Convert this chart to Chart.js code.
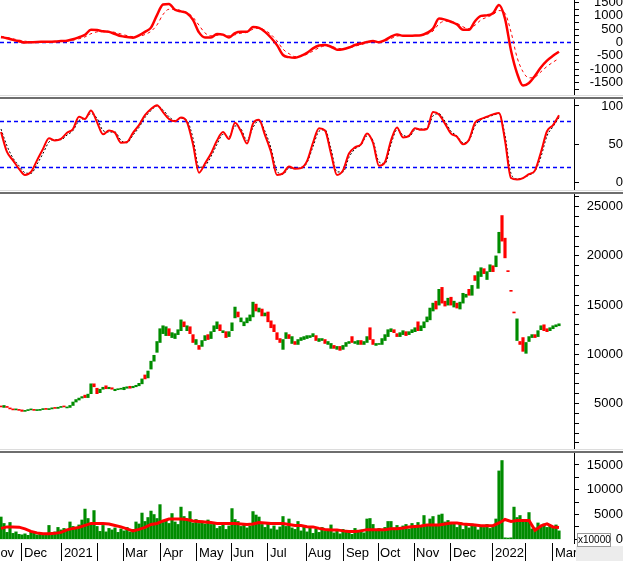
<!DOCTYPE html>
<html>
<head>
<meta charset="utf-8">
<script src="https://cdn.jsdelivr.net/npm/chart.js@4.4.1/dist/chart.umd.min.js"></script>
<style>
  html, body { margin: 0; padding: 0; background: #fff; }
  body { width: 623px; height: 561px; position: relative; overflow: hidden; font-family: "Liberation Sans", Arial, sans-serif; }
  .panel { position: absolute; left: 0; width: 623px; }
  .sepDark { position: absolute; left: 0; width: 623px; height: 2px; background: #6e6e6e; }
  .sepLight { position: absolute; left: 0; width: 623px; height: 1px; background: #dcdcdc; }
  #unitBox { position: absolute; left: 577px; top: 533px; width: 32px; height: 12px; border: 1px solid #9a9a9a; background: #fff;
             font: 10px "Liberation Sans", Arial, sans-serif; line-height: 12px; text-align: center; color: #000; }
  #corner { position: absolute; left: 576px; top: 546px; width: 47px; height: 15px; background: #ececec; }
</style>
</head>
<body>
<div class="panel" style="top:0;height:95px"><canvas id="macdChart"></canvas></div>
<div class="sepLight" style="top:95px"></div>
<div class="sepDark" style="top:97px"></div>
<div class="panel" style="top:99px;height:91px"><canvas id="stochChart"></canvas></div>
<div class="sepLight" style="top:190px"></div>
<div class="sepDark" style="top:192px"></div>
<div class="panel" style="top:194px;height:255px"><canvas id="priceChart"></canvas></div>
<div class="sepLight" style="top:449px"></div>
<div class="sepDark" style="top:451px"></div>
<div class="panel" style="top:453px;height:108px"><canvas id="volChart"></canvas></div>
<div id="corner"></div>
<div id="unitBox">x10000</div>
<script>
// one bar per entry, oldest first (late Oct 2020 .. early Mar 2022)
const opens = [
  4750,4600,4700,4550,4400,4350,4350,4350,4200,4280,
  4350,4400,4280,4300,4380,4450,4380,4450,4550,4500,
  4600,4750,4550,4600,4800,5150,5350,5550,5850,5600,
  6000,7000,6550,6100,6450,6800,6500,6600,6300,6400,
  6450,6400,6550,6750,6600,6700,6800,7000,7900,7600,
  8500,9300,10200,11200,12100,11900,12600,11700,11600,12000,
  12400,13300,12400,12800,12000,11000,10900,10800,11400,12000,
  11600,12300,12600,13000,12200,12300,11800,12400,13700,14300,
  13300,12900,13200,13400,13800,15100,14300,14600,13900,14300,
  13400,13000,12200,11600,10500,11600,12000,11100,11300,11000,
  11400,11500,11600,11700,11800,11900,11300,11400,11500,11000,
  10600,10900,10500,10800,10500,10800,11100,11800,11100,11000,
  11400,11000,11200,12700,11500,10900,11000,11000,11400,11800,
  12300,12500,12100,11800,12000,12300,12000,12200,12300,13300,
  12400,12700,13300,13500,14400,15400,15000,16800,15400,15000,
  15800,14800,15200,14600,15200,15800,16600,16000,18000,16700,
  17900,18700,17600,18400,19000,18900,20300,24100,21800,18500,
  16500,14300,11400,11300,11700,10100,11300,11700,12000,11800,
  12500,13000,12600,12400,12600,12800,12900
];
const closes = [
  4650,4800,4600,4450,4350,4400,4300,4200,4300,4350,
  4400,4300,4320,4380,4460,4400,4480,4560,4500,4620,
  4680,4650,4620,4800,5150,5400,5550,5700,5600,5950,
  7000,6700,6000,6450,6650,6500,6650,6450,6450,6500,
  6550,6650,6700,6550,6750,6850,7050,7500,7500,8300,
  9300,9900,11300,12600,12900,12800,11900,12200,12100,12500,
  13500,12800,12900,12100,11200,11500,10500,11400,11900,11500,
  12300,12900,13300,12400,12400,11700,12300,13200,14800,13800,
  13700,13300,13700,14000,15300,14400,14700,13900,14200,13300,
  12700,12300,11500,11200,11500,12200,11600,11800,11000,11500,
  11700,11800,11900,11900,12100,11400,11600,11600,11100,11300,
  11100,10600,10800,10400,10900,11200,11300,11200,11300,11400,
  11000,11300,11800,11500,11000,11100,11100,11600,12000,12500,
  12600,12200,11800,12200,12400,11900,12300,12500,12700,12400,
  12900,13300,13800,14700,15200,14600,16600,15200,14900,15700,
  15000,15400,14700,15300,16200,16100,16000,17000,17500,18400,
  18800,18200,18400,19100,18400,20000,22400,21500,19800,18400,
  16400,14200,13600,11000,10300,11200,11800,12000,11700,12400,
  12900,12400,12300,12700,12900,13000,13100
];
// volume in units of 10000 shares
const volumes = [
  4500,3200,1400,3400,1200,1500,1000,900,1100,800,
  1600,1400,900,1200,800,1000,2800,1300,1500,2400,
  1900,2200,1800,3500,2600,2100,2900,3900,6100,4200,
  3000,5800,2600,1600,2800,1500,2200,1900,2300,1400,
  2100,1700,2400,1500,2000,3500,3100,5300,3600,4400,
  5700,5000,4200,7000,3400,4000,3200,5200,3500,3000,
  6500,4600,3800,5600,3300,4000,3200,3700,3100,3900,
  3000,3300,2200,2600,3400,2000,2700,6200,4000,3600,
  2600,3000,2300,2700,5600,4900,4500,3000,2400,3100,
  2100,2700,1900,2500,4600,2600,4100,2300,2000,3600,
  1700,2600,1500,2300,1200,2100,1400,2400,1600,2000,
  2900,1300,1700,1100,2000,1400,1800,1000,2200,1500,
  1900,1300,4100,4200,3000,1900,2200,1600,2400,3600,
  3600,2300,2800,2000,2700,3000,2100,3200,2600,3400,
  2500,4800,2700,4100,4600,3000,4900,5100,3500,3800,
  3100,3400,2400,3400,2000,2900,2300,3100,2600,1900,
  2800,2400,3000,2200,2600,4100,13800,15900,300,250,
  300,6500,4400,4800,3800,3600,5400,2100,2300,3300,
  2600,3100,2400,2800,2600,2900,1700
];
// indicator lines, one value every 2 bars
const volumeMA = [
  2200,2500,2500,2450,2100,1600,1300,1100,1100,1200,
  1400,1900,2200,2400,2800,3200,3200,3200,3100,2800,
  2500,2100,1700,2000,2400,3000,3200,3700,4100,4100,
  4100,4000,3700,3600,3500,3400,3200,3200,3200,3200,
  3100,3000,3100,3400,3300,3200,3200,3200,3000,2800,
  2800,2550,2500,2200,2000,1900,1900,1700,1600,1600,
  1700,1950,1950,1950,1950,2150,2150,2300,2500,2600,
  2700,2900,2900,2900,3100,3300,3300,3100,3000,2900,
  2750,2750,2750,3300,4000,3600,3800,3800,3800,1800,
  2700,3100,2500,2400
];
const macd = [
  210,160,100,50,0,10,20,25,30,40,
  55,70,120,200,290,480,470,420,400,320,
  240,210,180,270,400,560,1030,1430,1450,1230,
  1170,1100,850,380,190,190,320,295,190,350,
  400,400,580,550,400,180,-100,-470,-550,-570,
  -500,-390,-220,-110,-90,-160,-270,-250,-190,-95,
  -40,20,60,10,90,220,300,250,250,260,
  270,360,520,900,860,780,680,480,480,800,
  1000,1020,1100,1410,900,-300,-1150,-1620,-1520,-1250,
  -930,-680,-500,-345
];
const macdSignal = [
  230,190,140,90,50,25,20,20,25,30,
  45,60,90,140,210,330,400,430,420,380,
  320,260,220,230,300,420,660,1050,1250,1250,
  1200,1130,950,650,360,250,270,290,250,290,
  350,380,500,540,460,300,60,-250,-420,-530,
  -520,-440,-320,-200,-130,-140,-210,-240,-210,-140,
  -80,-20,30,30,60,150,240,260,250,255,
  265,310,430,700,800,790,720,590,520,650,
  850,950,1050,1200,1100,400,-550,-1100,-1330,-1300,
  -1100,-900,-740,-600
];
const stochK = [
  66,40,29,18,10,14,29,44,58,55,
  57,65,70,86,83,94,79,63,68,65,
  52,53,65,75,88,96,101,92,83,80,
  85,79,50,13,25,38,55,66,57,78,
  67,51,77,82,62,40,10,12,21,18,
  19,28,52,71,68,38,10,16,38,46,
  50,64,52,22,27,55,72,59,61,71,
  69,70,92,89,77,64,60,50,56,78,
  83,86,89,91,55,6,4,6,11,16,
  40,67,75,88
];
const stochD = [
  70,48,32,22,13,12,24,38,53,56,
  56,62,68,81,84,90,84,68,66,66,
  55,52,62,72,85,94,100,95,86,81,
  84,81,58,20,22,34,50,63,60,74,
  70,55,72,81,67,45,15,11,19,19,
  19,26,47,67,69,44,14,14,33,44,
  49,61,55,27,25,50,69,62,60,69,
  70,70,87,90,80,67,61,52,55,74,
  82,85,88,90,62,12,5,6,10,15,
  34,61,73,85
];
const macdLevels = [0];
const stochLevels = [20, 80];
// month boundaries (bar position) and their labels
const monthTicks = [-4, 7, 20.3, 32.3, 40.7, 53.3, 65.3, 76.7, 89, 101.7, 114.3, 125.7, 137.7, 150, 164, 175, 184];
const monthLabels = ["Nov", "Dec", "2021", "", "Mar", "Apr", "May", "Jun", "Jul", "Aug", "Sep", "Oct", "Nov", "Dec", "2022", "", "Mar"];

const RED = "#ff0000";
const GREEN = "#008c00";
const LINE_STEP = 2;
const font = { family: "'Liberation Sans', Arial, sans-serif", size: 13 };

const levelLines = {
  id: "levelLines",
  beforeDatasetsDraw(chart, args, opts) {
    const { ctx, chartArea: a, scales: { y } } = chart;
    ctx.save();
    ctx.strokeStyle = "#0000ff";
    ctx.lineWidth = 1.3;
    ctx.setLineDash([4, 3]);
    (opts.levels || []).forEach((v) => {
      const py = Math.round(y.getPixelForValue(v)) + 0.5;
      ctx.beginPath();
      ctx.moveTo(a.left, py);
      ctx.lineTo(a.right, py);
      ctx.stroke();
    });
    ctx.restore();
  },
};

// keep the plot area flush with the canvas edges
function noPad(s) {
  s.paddingTop = 0;
  s.paddingBottom = 0;
  s.paddingLeft = 0;
  s.paddingRight = 0;
}

function hiddenX() {
  return { type: "linear", min: -0.33, max: 191, display: false, offset: false, grid: { offset: false } };
}

function yAxis(min, max, step, major, pad) {
  return {
    position: "right",
    min: min,
    max: max,
    afterFit: (s) => { s.width = 49; noPad(s); },
    afterBuildTicks: (s) => {
      const t = [];
      for (let v = Math.ceil(min / step) * step; v <= max; v += step) t.push({ value: v });
      s.ticks = t;
    },
    border: { display: true, color: "#000", width: 1 },
    grid: { drawOnChartArea: false, drawTicks: true, tickLength: 5, tickColor: "#000" },
    ticks: {
      autoSkip: false,
      crossAlign: "far",
      padding: pad,
      color: "#000",
      font: font,
      callback: (v) => (v % major === 0 ? String(v) : ""),
    },
  };
}

function baseOptions(scales, levels) {
  return {
    animation: false,
    responsive: true,
    maintainAspectRatio: false,
    devicePixelRatio: 1,
    events: [],
    layout: { padding: 0, autoPadding: false },
    plugins: { legend: { display: false }, tooltip: { enabled: false }, levelLines: { levels: levels || [] } },
    scales: scales,
  };
}

const lineXY = (arr) => arr.map((v, i) => ({ x: i * LINE_STEP, y: v }));

// MACD panel
new Chart(document.getElementById("macdChart"), {
  type: "line",
  data: {
    datasets: [
      { data: lineXY(macd), borderColor: RED, borderWidth: 2.5, pointRadius: 0, cubicInterpolationMode: "monotone" },
      { data: lineXY(macdSignal), borderColor: RED, borderWidth: 1, borderDash: [3, 3], pointRadius: 0, cubicInterpolationMode: "monotone" },
    ],
  },
  options: baseOptions({ x: hiddenX(), y: yAxis(-1974, 1598, 250, 500, 7) }, macdLevels),
  plugins: [levelLines],
});

// Stochastic panel
new Chart(document.getElementById("stochChart"), {
  type: "line",
  data: {
    datasets: [
      { data: lineXY(stochK), borderColor: RED, borderWidth: 2, pointRadius: 0, cubicInterpolationMode: "monotone" },
      { data: lineXY(stochD), borderColor: "#000", borderWidth: 1, borderDash: [2, 2], pointRadius: 0, cubicInterpolationMode: "monotone" },
    ],
  },
  options: baseOptions({ x: hiddenX(), y: yAxis(-9.6, 109.1, 50, 50, 19) }, stochLevels),
  plugins: [levelLines],
});

// Price panel (open/close bodies)
new Chart(document.getElementById("priceChart"), {
  type: "bar",
  data: {
    datasets: [
      {
        data: opens.map((o, i) => ({ x: i, y: [o, closes[i]] })),
        backgroundColor: opens.map((o, i) => (closes[i] >= o ? GREEN : RED)),
        borderWidth: 0,
        barThickness: 2.5,
        minBarLength: 1,
      },
    ],
  },
  options: baseOptions({ x: hiddenX(), y: yAxis(376, 26290, 1000, 5000, 4) }),
});

// Volume panel + month axis
const volX = {
  type: "linear",
  min: -0.33,
  max: 191,
  offset: false,
  afterBuildTicks: (s) => { s.ticks = monthTicks.map((v) => ({ value: v })); },
  afterFit: (s) => { s.height = 18; noPad(s); },
  border: { display: false },
  grid: { offset: false, drawOnChartArea: false, drawTicks: true, tickLength: 18, tickColor: "#000" },
  ticks: {
    autoSkip: false,
    maxRotation: 0,
    align: "start",
    labelOffset: 2,
    padding: -15,
    color: "#000",
    font: font,
    callback: (v, i) => monthLabels[i],
  },
};

new Chart(document.getElementById("volChart"), {
  type: "bar",
  data: {
    datasets: [
      { type: "line", data: lineXY(volumeMA), borderColor: RED, borderWidth: 3, pointRadius: 0, order: 0 },
      { data: volumes.map((v, i) => ({ x: i, y: v })), backgroundColor: GREEN, borderWidth: 0, barThickness: 2.5, order: 1 },
    ],
  },
  options: baseOptions({ x: volX, y: yAxis(-746, 17420, 2500, 5000, 4) }),
});
</script>
</body>
</html>
